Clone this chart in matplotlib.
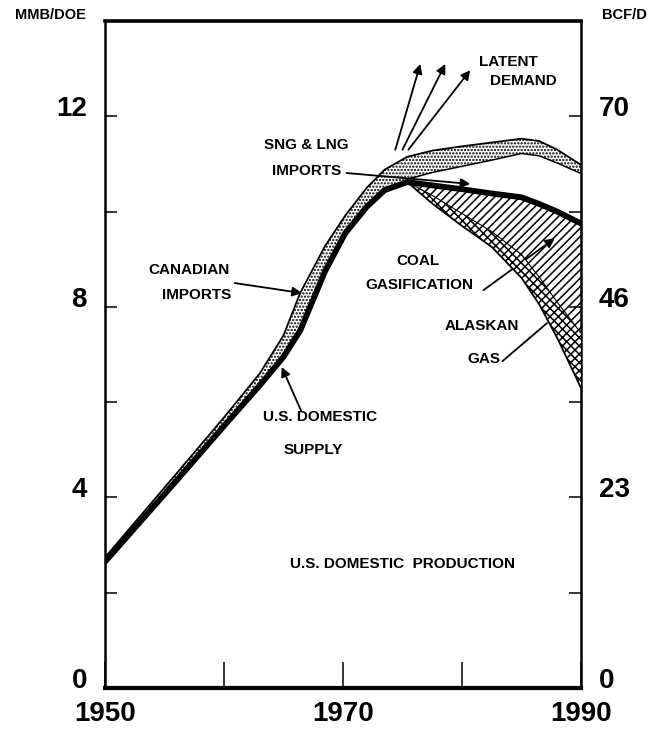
import matplotlib
matplotlib.use('Agg')
import matplotlib.pyplot as plt

plt.rcParams['font.family'] = ['Liberation Sans', 'DejaVu Sans']
plt.rcParams['font.weight'] = 'bold'
plt.rcParams['hatch.linewidth'] = 1.1

# before the 1975 peak
years_early = [1950, 1956, 1960, 1963, 1965, 1966.4, 1968.5, 1970.2, 1972, 1973.5, 1975.4]
supply_early = [2.65, 4.35, 5.5, 6.35, 6.95, 7.5, 8.75, 9.55, 10.1, 10.45, 10.62]
total_early = [2.74, 4.5, 5.68, 6.6, 7.4, 8.29, 9.28, 9.92, 10.5, 10.88, 11.15]

# after the peak
years_late = [1975.4, 1977.5, 1980, 1982.5, 1985, 1986.5, 1988, 1990]
supply_late = [10.62, 10.55, 10.47, 10.38, 10.3, 10.16, 10.0, 9.75]
total_late = [11.15, 11.28, 11.37, 11.45, 11.53, 11.48, 11.3, 10.98]
sng_base = [10.68, 10.82, 10.95, 11.08, 11.22, 11.17, 11.02, 10.8]
alaskan_top = [10.62, 10.34, 9.96, 9.58, 9.1, 8.62, 8.1, 7.45]
production = [10.62, 10.17, 9.7, 9.26, 8.61, 8.05, 7.35, 6.3]

mmb_ticks = [0, 4, 8, 12]
bcf_labels = ['0', '23', '46', '70']
minor_ticks = [2, 6, 10]
year_ticks = [1950, 1960, 1970, 1980, 1990]
year_labels = ['1950', '', '1970', '', '1990']

fig = plt.figure(figsize=(6.5, 7.3), dpi=100)
ax = fig.add_axes([0.1615, 0.0575, 0.7323, 0.9137])
ax.set_xlim(1950, 1990)
ax.set_ylim(0, 14)

# shaded bands
ax.fill_between(years_early, supply_early, total_early, facecolor='white',
                edgecolor='black', hatch='.....', linewidth=0, zorder=1)
ax.fill_between(years_late, sng_base, total_late, facecolor='white',
                edgecolor='black', hatch='.....', linewidth=0, zorder=1)
ax.fill_between(years_late, alaskan_top, supply_late, facecolor='white',
                edgecolor='black', hatch='////', linewidth=0, zorder=1)

# coal gasification pointer goes under the alaskan band
ax.annotate('', xy=(1987.8, 9.44), xytext=(1981.8, 8.35),
            arrowprops=dict(arrowstyle='-|>', color='black', lw=1.3,
                            mutation_scale=14, shrinkA=0, shrinkB=0), zorder=2)

ax.fill_between(years_late, production, alaskan_top, facecolor='white',
                edgecolor='black', hatch='xxxx', linewidth=0, zorder=3)

ax.plot(years_early + years_late[1:], total_early + total_late[1:],
        color='black', lw=1.3, zorder=4)
ax.plot(years_late, sng_base, color='black', lw=1.1, zorder=4)
ax.plot(years_late, production, color='black', lw=1.3, zorder=4)
ax.plot(years_late, alaskan_top, color='black', lw=0.8, zorder=4)
ax.plot(years_early + years_late[1:], supply_early + supply_late[1:],
        color='black', lw=4.2, solid_joinstyle='round', zorder=5)

arrow = dict(arrowstyle='-|>', color='black', lw=1.3, mutation_scale=14,
             shrinkA=0, shrinkB=0)
line = dict(arrowstyle='-', color='black', lw=1.3, shrinkA=0, shrinkB=0)

# latent demand
for tail, head in [((1974.4, 11.3), (1976.5, 13.1)),
                   ((1975.0, 11.3), (1978.6, 13.1)),
                   ((1975.5, 11.3), (1980.7, 12.97))]:
    ax.annotate('', xy=head, xytext=tail, arrowprops=arrow, zorder=6)
ax.annotate('', xy=(1980.7, 10.58), xytext=(1970.3, 10.81), arrowprops=arrow, zorder=6)
ax.annotate('', xy=(1966.55, 8.29), xytext=(1960.9, 8.5), arrowprops=arrow, zorder=6)
ax.annotate('', xy=(1964.85, 6.74), xytext=(1966.5, 5.81), arrowprops=arrow, zorder=6)
ax.annotate('', xy=(1983.4, 6.86), xytext=(1987.15, 7.66), arrowprops=line, zorder=6)

fs = 11
labels = [
    ('LATENT', 1983.9, 13.14), ('DEMAND', 1985.2, 12.74),
    ('SNG & LNG', 1966.95, 11.4), ('IMPORTS', 1966.95, 10.85),
    ('CANADIAN', 1957.1, 8.77), ('IMPORTS', 1957.7, 8.25),
    ('U.S. DOMESTIC', 1968.1, 5.69), ('SUPPLY', 1967.5, 4.99),
    ('COAL', 1976.3, 8.96), ('GASIFICATION', 1976.4, 8.46),
    ('ALASKAN', 1981.7, 7.6), ('GAS', 1981.8, 6.9),
    ('U.S. DOMESTIC  PRODUCTION', 1975.0, 2.6),
]
for txt, x, y in labels:
    ax.text(x, y, txt, ha='center', va='center', fontsize=fs,
            fontweight='bold', zorder=7)

# axes
ax.set_xticks(year_ticks)
ax.set_xticklabels(year_labels, fontsize=20, fontweight='bold')
ax.set_yticks(mmb_ticks)
ax.set_yticklabels([str(v) for v in mmb_ticks], fontsize=20, fontweight='bold')
ax.set_yticks(minor_ticks, minor=True)
ax.tick_params(axis='x', direction='in', length=18.5, width=1.1, pad=9)
ax.tick_params(axis='y', which='both', direction='in', length=8.6, width=1.1, pad=13)
for side, w in [('top', 2.6), ('bottom', 3.0), ('left', 1.8), ('right', 1.8)]:
    ax.spines[side].set_linewidth(w)

ax2 = ax.twinx()
ax2.set_ylim(0, 14)
ax2.set_yticks(mmb_ticks)
ax2.set_yticklabels(bcf_labels, fontsize=20, fontweight='bold')
ax2.set_yticks(minor_ticks, minor=True)
ax2.tick_params(axis='y', which='both', direction='in', length=8.6, width=1.1, pad=13)
for s in ax2.spines.values():
    s.set_visible(False)

for lbl in ax.get_yticklabels() + ax2.get_yticklabels():
    lbl.set_verticalalignment('baseline')

fig.text(0.078, 0.979, 'MMB/DOE', ha='center', va='center', fontsize=10.5,
         fontweight='bold')
fig.text(0.96, 0.979, 'BCF/D', ha='center', va='center', fontsize=10.5,
         fontweight='bold')

fig.savefig('out.png', dpi=100, facecolor='white')
